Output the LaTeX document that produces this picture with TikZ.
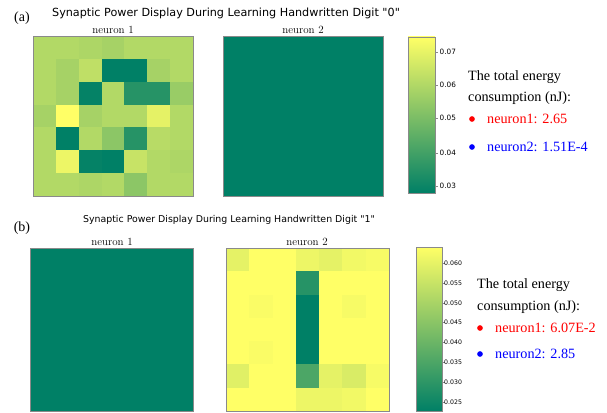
\documentclass[tikz,border=0pt]{standalone}
\usepackage{fontspec}
\usepackage{tikz}
\newfontfamily\plotfont{DejaVu Sans}
\newfontfamily\timesfont{Liberation Serif}
\definecolor{summerlo}{rgb}{0,0.5,0.4}
\definecolor{summerhi}{rgb}{1,1,0.4}
\definecolor{frame}{HTML}{8A8A8A}
\definecolor{redtxt}{HTML}{FF0000}
\definecolor{bluetxt}{HTML}{0000FF}
\tikzset{
  title/.style={font=\plotfont\fontsize{11.2}{13}\selectfont, inner sep=0pt},
  titleb/.style={font=\plotfont\fontsize{9.4}{11}\selectfont, inner sep=0pt},
  panel/.style={font=\timesfont\fontsize{14}{16}\selectfont, inner sep=0pt},
  sub/.style={font=\fontsize{11}{12}\selectfont, inner sep=0pt, anchor=south},
  tick/.style={font=\plotfont\fontsize{7.3}{8}\selectfont, anchor=west, inner sep=0pt},
  tickb/.style={font=\plotfont\fontsize{6.2}{7}\selectfont, anchor=west, inner sep=0pt},
  info/.style={font=\timesfont\fontsize{14.2}{16}\selectfont, anchor=west, inner sep=0pt},
  box/.style={draw=frame, line width=0.8pt},
  dot/.style={circle, inner sep=2pt},
}
\begin{document}
\begin{tikzpicture}[x=1pt,y=-1pt]
  \useasboundingbox (0,0) rectangle (607,412);
  % ---- panel (a): digit 0
  \node[panel] (pa) at (22,18) {(a)};
  \node[title] (ta) at (226,13) {Synaptic Power Display During Learning Handwritten Digit "0"};
  \def\c{22.857}
  \foreach \row [count=\j from 0] in {{70,70,68,65,70,70,70},{70,65,75,0,0,65,70},{70,65,2,70,15,15,60},{65,100,65,70,70,90,70},{70,0,70,55,15,72,70},{70,93,2,0,78,70,68},{70,70,68,70,55,70,70}} {
    \foreach \v [count=\i from 0] in \row
      \fill[summerhi!\v!summerlo] ({33+\i*\c},{36+\j*\c}) rectangle ++(\c,\c);
  }
  \draw[box] (33,36) rectangle (193,196);
  \node[sub] (na1) at (113,34) {neuron 1};
  \fill[summerlo] (223,36) rectangle (383,196);
  \draw[box] (223,36) rectangle (383,196);
  \node[sub] (na2) at (303,34) {neuron 2};
  % colorbar
  \shade[bottom color=summerlo, top color=summerhi] (408,37) rectangle (435,193);
  \draw[box] (408,37) rectangle (435,193);
  \foreach \y/\t in {52/0.07,85/0.06,118/0.05,153/0.04,186/0.03} {
    \draw[frame, line width=0.5pt] (435,\y) -- ++(3,0);
    \node[tick] at (439.5,\y) {\t};
  }
  \node[info] (ea1) at (468,77) {The total energy};
  \node[info] (ea2) at (468,98) {consumption (nJ):};
  \node[dot, fill=redtxt] (ra) at (472,119) {};
  \node[info, text=redtxt] (ra1) at (487,119) {neuron1: 2.65};
  \node[dot, fill=bluetxt] (ba) at (472,147) {};
  \node[info, text=bluetxt] (ba1) at (487,147) {neuron2: 1.51E-4};
  % ---- panel (b): digit 1
  \node[panel] (pb) at (22,228) {(b)};
  \node[titleb] (tb) at (229,220) {Synaptic Power Display During Learning Handwritten Digit "1"};
  \fill[summerlo] (30,248) rectangle (193,411);
  \draw[box] (30,248) rectangle (193,411);
  \node[sub] (nb1) at (112,246) {neuron 1};
  \def\d{23.286}
  \foreach \row [count=\j from 0] in {{90,100,100,93,90,95,97},{100,100,100,15,100,100,100},{100,98,100,0,100,97,100},{100,100,100,0,100,100,100},{100,98,100,0,100,100,100},{88,100,100,30,90,85,97},{100,100,100,93,93,95,100}} {
    \foreach \v [count=\i from 0] in \row
      \fill[summerhi!\v!summerlo] ({226+\i*\d},{248+\j*\d}) rectangle ++(\d,\d);
  }
  \draw[box] (226,248) rectangle (389,411);
  \node[sub] (nb2) at (307,246) {neuron 2};
  % colorbar
  \shade[bottom color=summerlo, top color=summerhi] (416,247) rectangle (442,411);
  \draw[box] (416,247) rectangle (442,411);
  \foreach \y/\t in {263/0.060,283/0.055,303/0.050,322/0.045,342/0.040,362/0.035,382/0.030,402/0.025} {
    \draw[frame, line width=0.5pt] (442,\y) -- ++(2.5,0);
    \node[tickb] at (444,\y) {\t};
  }
  \node[info] (eb1) at (477,285) {The total energy};
  \node[info] (eb2) at (477,307) {consumption (nJ):};
  \node[dot, fill=redtxt] (rb) at (480,328) {};
  \node[info, text=redtxt] (rb1) at (495,328) {neuron1: 6.07E-2};
  \node[dot, fill=bluetxt] (bb) at (480,354) {};
  \node[info, text=bluetxt] (bb1) at (495,354) {neuron2: 2.85};
\end{tikzpicture}
\end{document}
